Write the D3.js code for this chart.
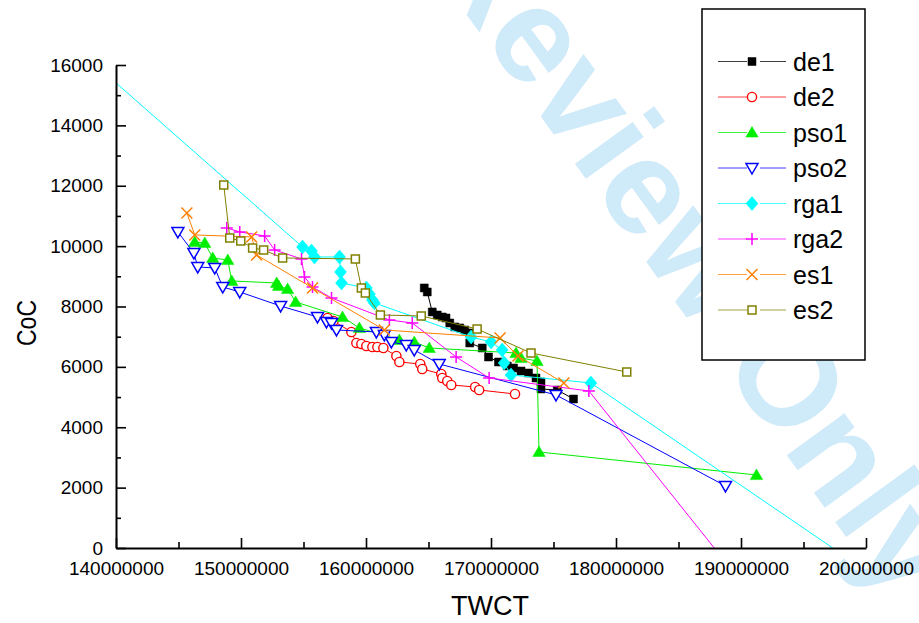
<!DOCTYPE html>
<html>
<head>
<meta charset="utf-8">
<script src="https://cdn.jsdelivr.net/npm/d3@7"></script>
<style>
  html, body { margin: 0; padding: 0; background: #fff; }
  svg { display: block; }
  text { font-family: "Liberation Sans", Arial, Helvetica, sans-serif; }
</style>
</head>
<body>
<svg id="chart" width="919" height="623"></svg>
<script>
// ---------------- DATA (TWCT, CoC) ----------------
const seriesNames = ["de1", "de2", "pso1", "pso2", "rga1", "rga2", "es1", "es2"];

const de1 = [
  [164660000, 8614], [164900000, 8481], [165300000, 7819], [165700000, 7719],
  [166100000, 7653], [166400000, 7620], [166700000, 7454], [167100000, 7322],
  [167500000, 7289], [167900000, 7222], [168300000, 7123], [168300000, 6792],
  [169300000, 6626], [169800000, 6328], [170600000, 6162], [171300000, 6030],
  [171800000, 5963], [172400000, 5864], [173000000, 5798], [173600000, 5632],
  [174000000, 5500], [174000000, 5268], [175300000, 5234], [176600000, 4936]
];
const de2 = [
  [156920000, 7620], [157400000, 7520], [158830000, 7156], [159230000, 6792],
  [159630000, 6759], [160030000, 6692], [160510000, 6659], [160910000, 6659],
  [161390000, 6626], [162430000, 6361], [162670000, 6162], [164340000, 6096],
  [164500000, 5930], [166020000, 5765], [166100000, 5632], [166500000, 5533],
  [166820000, 5400], [168730000, 5334], [169050000, 5234], [171920000, 5102]
];
const pso1 = [
  [146300000, 10138], [147100000, 10105], [147740000, 9608], [148940000, 9541],
  [149260000, 8846], [152850000, 8779], [153010000, 8680], [153730000, 8581],
  [154370000, 8150], [158120000, 7653], [159470000, 7289], [162670000, 6891],
  [163860000, 6825], [165060000, 6626], [172000000, 6460], [172400000, 6295],
  [173680000, 6195], [173840000, 3181], [191240000, 2418]
];
const pso2 = [
  [144950000, 10469], [146230000, 9773], [146540000, 9310], [147900000, 9276],
  [148540000, 8647], [149900000, 8481], [153170000, 8017], [156120000, 7653],
  [156840000, 7487], [157240000, 7454], [157640000, 7222], [160830000, 7156],
  [161470000, 7057], [162030000, 6825], [163220000, 6725], [163860000, 6560],
  [165860000, 6096], [175200000, 5069], [188760000, 2054]
];
const rga1 = [
  [130000000, 19050], [154920000, 9972], [155640000, 9840], [155880000, 9641],
  [157880000, 9641], [157960000, 9144], [158040000, 8779], [160030000, 8614],
  [160270000, 8415], [160510000, 8216], [160670000, 8117], [168410000, 6990],
  [170010000, 6825], [170890000, 6560], [171050000, 6129], [171600000, 5732],
  [177990000, 5466], [200000000, -750]
];
const rga2 = [
  [148860000, 10602], [149900000, 10469], [151890000, 10337], [152690000, 9873],
  [154840000, 9575], [155080000, 8979], [155720000, 8647], [157240000, 8283],
  [161870000, 7553], [163700000, 7454], [167210000, 6328], [169850000, 5632],
  [177830000, 5201], [195000000, -3700]
];
const es1 = [
  [145670000, 11099], [146300000, 10370], [150850000, 10304], [151250000, 9707],
  [155720000, 8614], [161470000, 7222], [170730000, 6957], [172160000, 6361],
  [175830000, 5466]
];
const es2 = [
  [148620000, 12026], [149100000, 10270], [149980000, 10171], [150930000, 9939],
  [151810000, 9873], [153330000, 9608], [159150000, 9575], [159630000, 8614],
  [159950000, 8448], [161150000, 7719], [164420000, 7686], [168890000, 7256],
  [173200000, 6460], [180860000, 5831]
];

const xTicks = [140000000, 150000000, 160000000, 170000000, 180000000, 190000000, 200000000];
const xMinorTicks = [145000000, 155000000, 165000000, 175000000, 185000000, 195000000];
const yTicks = [0, 2000, 4000, 6000, 8000, 10000, 12000, 14000, 16000];
const yMinorTicks = [1000, 3000, 5000, 7000, 9000, 11000, 13000, 15000];
const xTitle = "TWCT";
const yTitle = "CoC";
const watermark = "Review Only";

// ---------------- STYLE ----------------
const styles = {
  de1:  { color: "#000000", marker: "squareFilled" },
  de2:  { color: "#ff0000", marker: "circleOpen" },
  pso1: { color: "#00ee00", marker: "triUpFilled" },
  pso2: { color: "#0000ff", marker: "triDownOpen" },
  rga1: { color: "#00ffff", marker: "diamondFilled" },
  rga2: { color: "#ff00ff", marker: "plus" },
  es1:  { color: "#ff8000", marker: "cross" },
  es2:  { color: "#808000", marker: "squareOpen" }
};
const dataMap = { de1, de2, pso1, pso2, rga1, rga2, es1, es2 };

const svg = d3.select("#chart");

// watermark
svg.append("text")
  .attr("transform", "translate(424,-44) rotate(54)")
  .attr("font-size", 135)
  .attr("font-weight", "bold")
  .attr("fill", "#cfeaf9")
  .text(watermark);

const x = d3.scaleLinear().domain([140000000, 200000000]).range([116, 866]);
const y = d3.scaleLinear().domain([0, 16000]).range([548, 65]);

svg.append("defs").append("clipPath").attr("id", "plotClip")
  .append("rect").attr("x", 116).attr("y", 40).attr("width", 750).attr("height", 508);

function markerPath(type, s) {
  switch (type) {
    case "squareFilled": case "squareOpen":
      return `M${-4*s},${-4*s}h${8*s}v${8*s}h${-8*s}Z`;
    case "triUpFilled":
      return `M0,${-6*s}L${6.2*s},${4.6*s}L${-6.2*s},${4.6*s}Z`;
    case "triDownOpen":
      return `M0,${6*s}L${6*s},${-4.4*s}L${-6*s},${-4.4*s}Z`;
    case "diamondFilled":
      return `M0,${-7*s}L${6*s},0L0,${7*s}L${-6*s},0Z`;
    case "plus":
      return `M${-6*s},0H${6*s}M0,${-6*s}V${6*s}`;
    case "cross":
      return `M${-5.5*s},${-5.5*s}L${5.5*s},${5.5*s}M${-5.5*s},${5.5*s}L${5.5*s},${-5.5*s}`;
  }
  return "";
}

function drawMarker(g, type, color, cx, cy, s) {
  if (type === "circleOpen") {
    g.append("circle").attr("cx", cx).attr("cy", cy).attr("r", 4.6 * s)
      .attr("fill", "#fff").attr("stroke", color).attr("stroke-width", 1.4);
    return;
  }
  const filled = type.endsWith("Filled");
  const open = type.endsWith("Open");
  g.append("path")
    .attr("transform", `translate(${cx},${cy})`)
    .attr("d", markerPath(type, s))
    .attr("fill", filled ? color : (open ? "#fff" : "none"))
    .attr("stroke", color)
    .attr("stroke-width", filled ? 0.5 : 1.5);
}

const plot = svg.append("g").attr("clip-path", "url(#plotClip)");
const line = d3.line().x(d => x(d[0])).y(d => y(d[1]));

seriesNames.forEach(name => {
  const st = styles[name];
  const data = dataMap[name];
  const g = plot.append("g");
  g.append("path").attr("d", line(data)).attr("fill", "none")
    .attr("stroke", st.color).attr("stroke-width", 1);
  data.forEach(d => {
    const px = x(d[0]), py = y(d[1]);
    if (px >= 116 && px <= 866 && py >= 40 && py <= 548) drawMarker(g, st.marker, st.color, px, py, 1);
  });
});

// ---------------- AXES ----------------
svg.append("g").attr("transform", "translate(0,548)")
  .call(d3.axisBottom(x).tickValues(xTicks).tickFormat(d3.format("d"))
    .tickSizeInner(-10).tickSizeOuter(0).tickPadding(14));
svg.append("g").attr("transform", "translate(0,548)")
  .call(d3.axisBottom(x).tickValues(xMinorTicks).tickFormat("")
    .tickSizeInner(-6).tickSizeOuter(0))
  .select(".domain").remove();
svg.append("g").attr("transform", "translate(116,0)")
  .call(d3.axisLeft(y).tickValues(yTicks).tickFormat(d3.format("d"))
    .tickSizeInner(-10).tickSizeOuter(0).tickPadding(13));
svg.append("g").attr("transform", "translate(116,0)")
  .call(d3.axisLeft(y).tickValues(yMinorTicks).tickFormat("")
    .tickSizeInner(-5).tickSizeOuter(0))
  .select(".domain").remove();

svg.selectAll(".domain").attr("stroke", "#000").attr("stroke-width", 2);
svg.selectAll(".tick line").attr("stroke", "#000").attr("stroke-width", 1.6);
svg.selectAll(".tick text").attr("font-size", 19).attr("fill", "#000")
  .attr("font-family", "'Liberation Sans', Arial, sans-serif");

svg.append("text").attr("x", 490).attr("y", 615).attr("text-anchor", "middle")
  .attr("font-size", 27).attr("fill", "#000").text(xTitle);
svg.append("text").attr("transform", "translate(36,323) rotate(-90)")
  .attr("text-anchor", "middle").attr("font-size", 28)
  .attr("textLength", 46).attr("lengthAdjust", "spacingAndGlyphs")
  .attr("fill", "#000").text(yTitle);

// ---------------- LEGEND ----------------
const lg = svg.append("g");
lg.append("rect").attr("x", 702).attr("y", 9).attr("width", 163).attr("height", 351)
  .attr("fill", "#fff").attr("stroke", "#000").attr("stroke-width", 1.5);
const legendY = d3.scalePoint().domain(seriesNames).range([61.5, 310]);
seriesNames.forEach(name => {
  const st = styles[name];
  const ly = legendY(name);
  lg.append("line").attr("x1", 718).attr("x2", 747).attr("y1", ly).attr("y2", ly)
    .attr("stroke", st.color).attr("stroke-width", 1).attr("stroke-opacity", 0.75);
  lg.append("line").attr("x1", 760).attr("x2", 786).attr("y1", ly).attr("y2", ly)
    .attr("stroke", st.color).attr("stroke-width", 1).attr("stroke-opacity", 0.75);
  drawMarker(lg, st.marker, st.color, 752, ly, 1.0);
  lg.append("text").attr("x", 793).attr("y", ly + 9).attr("font-size", 25)
    .attr("fill", "#000").text(name);
});
</script>
</body>
</html>
